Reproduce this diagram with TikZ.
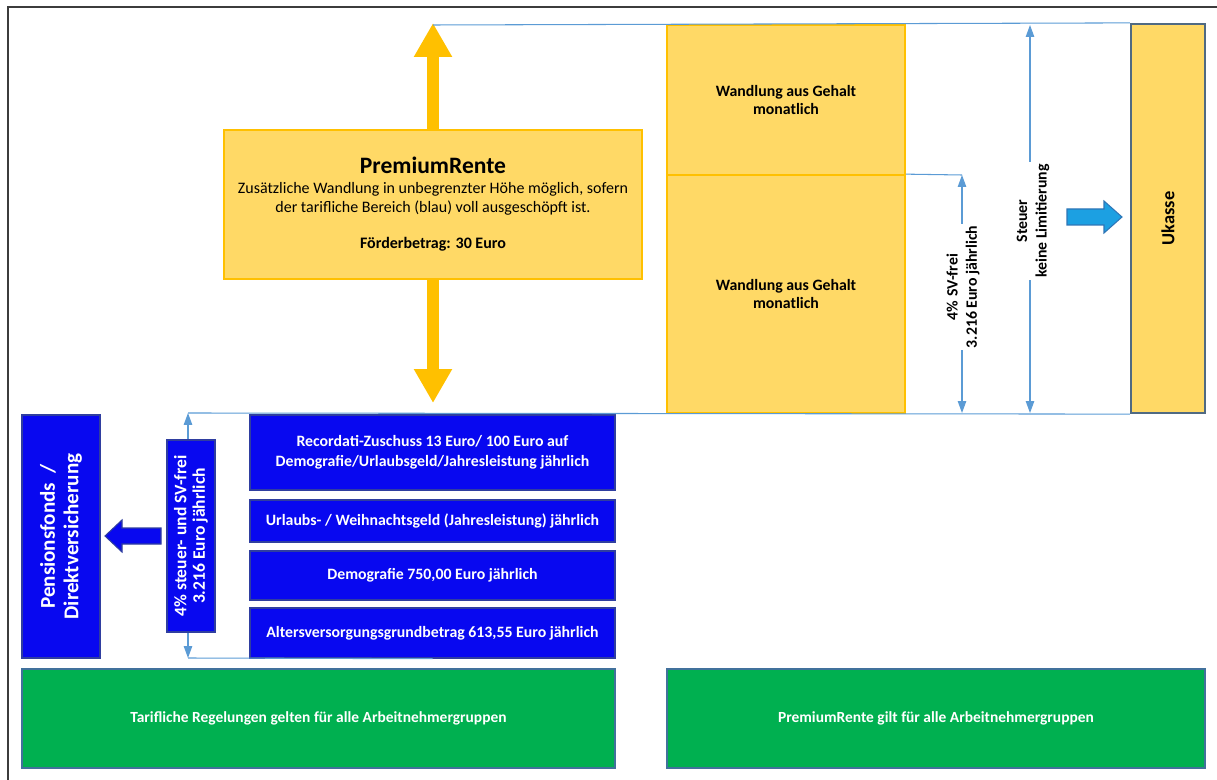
\documentclass[tikz,border=0pt]{standalone}
\usepackage{fontspec}
\setmainfont{Carlito}
\usetikzlibrary{arrows.meta}

\definecolor{gold}{RGB}{255,192,0}
\definecolor{lightgold}{RGB}{255,217,102}
\definecolor{tarifblue}{RGB}{8,8,240}
\definecolor{tarifedge}{RGB}{47,62,160}
\definecolor{tarifgreen}{RGB}{0,176,80}
\definecolor{greenedge}{RGB}{65,113,156}
\definecolor{dimblue}{RGB}{91,155,213}
\definecolor{cyanarrow}{RGB}{28,160,226}
\definecolor{cyanedge}{RGB}{46,117,182}
\definecolor{ukedge}{RGB}{80,106,130}
\definecolor{framegray}{RGB}{60,60,60}

\begin{document}
\begin{tikzpicture}[x=0.02cm, y=-0.02cm,
    every node/.style={font=\fontsize{9.1}{10.9}\selectfont, align=center, inner sep=0pt},
    yelbox/.style={draw=gold, fill=lightgold, line width=1pt},
    tarifbox/.style={draw=tarifedge, fill=tarifblue, line width=0.8pt, text=white, font=\fontsize{9}{11.4}\selectfont\bfseries},
    greenbox/.style={draw=greenedge, fill=tarifgreen, line width=1pt, text=white, font=\fontsize{8.8}{10}\selectfont\bfseries},
    dimline/.style={draw=dimblue, line width=0.6pt},
    dimarrow/.style={dimline, {Triangle[length=0.24cm,width=0.17cm]}-{Triangle[length=0.24cm,width=0.17cm]}},
    dimlabel/.style={fill=white, rotate=90, inner sep=1pt, text=black, font=\fontsize{9}{11}\selectfont\bfseries},
    bigarrow/.style={draw=gold, line width=0.24cm, -{Triangle[length=0.68cm,width=0.72cm]}}
]
    \useasboundingbox (0,0) rectangle (1217,780);
    % outer frame
    \draw[framegray, line width=1pt] (8,780) -- (8,7) -- (1217,7);

    % arrow ends
    \coordinate (artop) at (433,23);
    \coordinate (arbot) at (433,403);
    \coordinate (linetop) at (433,25);
    \coordinate (sva) at (962,175);
    \coordinate (svb) at (962,413);
    \coordinate (sta) at (1030,25);
    \coordinate (stb) at (1030,413);
    \coordinate (lta) at (188,413);
    \coordinate (ltb) at (188,658);
    \draw[dimarrow] (lta) -- (ltb); % behind the blue box

    % PremiumRente part (yellow)
    \node[yelbox, minimum width=8.36cm, minimum height=2.98cm] (premium) at (433,204.5)
        {{\fontsize{13.4}{15}\selectfont\bfseries PremiumRente}\\
         Zusätzliche Wandlung in unbegrenzter Höhe möglich, sofern\\
         der tarifliche Bereich (blau) voll ausgeschöpft ist.\\[10pt]
         \textbf{Förderbetrag: 30 Euro}};
    \node[yelbox, minimum width=4.76cm, minimum height=3cm, font=\fontsize{9}{10.5}\selectfont\bfseries] (wandlung1) at (786,100) {Wandlung aus Gehalt\\monatlich};
    \node[yelbox, minimum width=4.76cm, minimum height=4.76cm, font=\fontsize{9}{10.5}\selectfont\bfseries] (wandlung2) at (786,294) {Wandlung aus Gehalt\\monatlich};
    \node[draw=ukedge, fill=lightgold, line width=1.3pt, minimum width=1.48cm, minimum height=7.78cm] (ukasse) at (1168,218.5) {};
    \node[rotate=90, font=\fontsize{10.5}{12}\selectfont\bfseries] (ukassetxt) at (ukasse) {Ukasse};

    % tarif part (blue)
    \node[tarifbox, minimum width=1.56cm, minimum height=4.86cm] (pensfonds) at (61,536.5) {};
    \node[rotate=90, text=white, font=\fontsize{12}{13.5}\selectfont\bfseries] (pensfondstxt) at (pensfonds) {Pensionsfonds~~/\\Direktversicherung};
    \node[tarifbox, minimum width=0.96cm, minimum height=3.84cm] (freibox) at (191,536) {};
    \node[rotate=90, text=white, font=\fontsize{10}{10.5}\selectfont\bfseries] (freitxt) at (freibox) {4\% steuer- und SV-frei\\3.216 Euro jährlich};
    \node[tarifbox, minimum width=7.3cm, minimum height=1.5cm] (recordati) at (432.5,452.5) {Recordati-Zuschuss 13 Euro/ 100 Euro auf\\Demografie/Urlaubsgeld/Jahresleistung jährlich};
    \node[tarifbox, minimum width=7.3cm, minimum height=0.84cm] (urlaub) at (432.5,521) {Urlaubs- / Weihnachtsgeld (Jahresleistung) jährlich};
    \node[tarifbox, minimum width=7.3cm, minimum height=0.98cm] (demografie) at (432.5,575.5) {Demografie 750,00 Euro jährlich};
    \node[tarifbox, minimum width=7.3cm, minimum height=1cm] (grundbetrag) at (432.5,633) {Altersversorgungsgrundbetrag 613,55 Euro jährlich};

    % green footer
    \node[greenbox, minimum width=11.86cm, minimum height=1.98cm] (tarifgruppen) at (318.5,718.5) {Tarifliche Regelungen gelten für alle Arbeitnehmergruppen};
    \node[greenbox, minimum width=10.76cm, minimum height=1.98cm] (premiumgruppen) at (936,718.5) {PremiumRente gilt für alle Arbeitnehmergruppen};

    % arrows
    \draw[bigarrow] (premium.north) -- (artop);
    \draw[bigarrow] (premium.south) -- (arbot);
    \draw[dimline] (linetop) -- (ukasse.north west);
    \draw[dimline] (wandlung2.north east) -- (sva);
    \draw[dimline] (lta) -- (ukasse.south west);
    \draw[dimline] (ltb) -- (grundbetrag.south);
    \draw[dimarrow] (sva) -- (svb);
    \draw[dimarrow] (sta) -- (stb);
    \node[dimlabel] (svtxt) at (963,287) {4\% SV-frei\\3.216 Euro jährlich};
    \node[dimlabel] (steuertxt) at (1033,221) {Steuer\\keine Limitierung};

    % block arrows
    \filldraw[fill=cyanarrow, draw=cyanedge, line width=0.6pt] (1067,209) -- (1104,209) -- (1104,201) -- (1122,217) -- (1104,233) -- (1104,225) -- (1067,225) -- cycle;
    \filldraw[fill=tarifblue, draw=tarifedge, line width=0.6pt] (161,528) -- (122,528) -- (122,520) -- (105,536) -- (122,552) -- (122,544) -- (161,544) -- cycle;
\end{tikzpicture}
\end{document}
